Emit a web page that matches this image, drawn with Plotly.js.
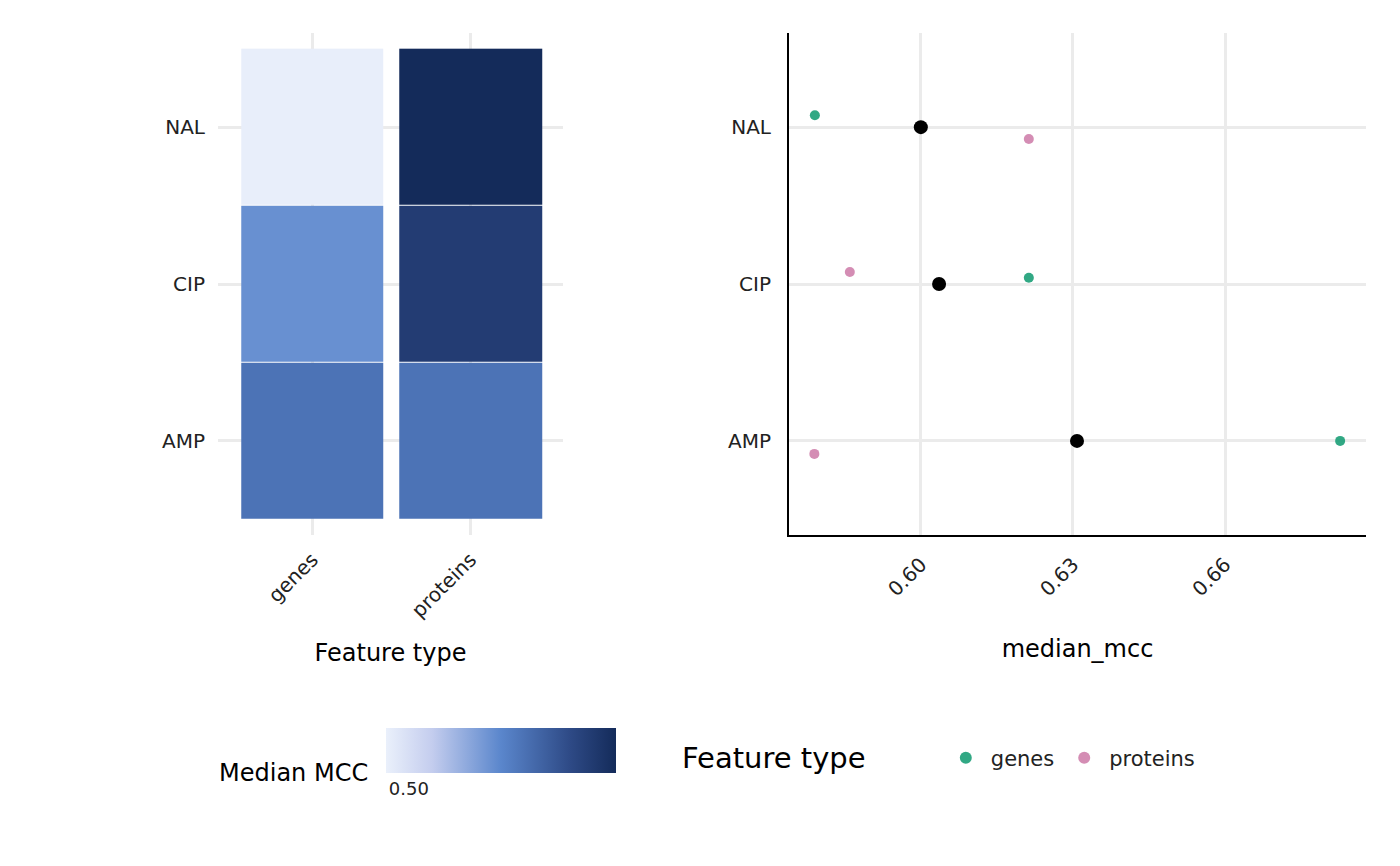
<!DOCTYPE html>
<html>
<head>
<script src="https://cdn.plot.ly/plotly-3.0.1.min.js"></script>
<style>body{margin:0}</style>
</head>
<body>
<div id="chart" style="width:1400px;height:866px"></div>
<script>
const drugs = ["AMP", "CIP", "NAL"];
const featureTypes = ["genes", "proteins"];
// heatmap median MCC, rows = drugs (AMP, CIP, NAL), cols = feature types
const heatZ = [
  [0.61, 0.61],
  [0.58, 0.675],
  [0.48, 0.70]
];

// dot plot: per drug position (0=AMP,1=CIP,2=NAL) with jitter
const genesX = [0.6827, 0.6213, 0.5791];
const genesY = [0.0, 1.04, 2.076];
const proteinsX = [0.579, 0.586, 0.6213];
const proteinsY = [-0.083, 1.076, 1.924];
const medianX = [0.6308, 0.6036, 0.600];
const medianY = [0, 1, 2];

const font = "DejaVu Sans, sans-serif";

const traces = [
  {
    type: "heatmap", x: featureTypes, y: drugs, z: heatZ,
    xaxis: "x", yaxis: "y", xgap: 16, ygap: 1,
    colorscale: [[0, "#eaf0fb"], [0.2, "#c4cdee"], [0.5, "#5a86cc"], [0.8, "#2e4a86"], [1, "#142b5a"]],
    zmin: 0.478, zmax: 0.70, showscale: true,
    colorbar: {
      orientation: "h", x: 501 / 1400, xanchor: "center", y: 0.072, yanchor: "bottom",
      lenmode: "pixels", len: 250, thickness: 45, outlinewidth: 0,
      tickvals: [0.5], ticktext: ["0.50"], ticks: "", ticklen: 0,
      tickfont: { family: font, size: 18, color: "#222" }
    }
  },
  {
    type: "scatter", mode: "markers", name: "genes", x: genesX, y: genesY,
    xaxis: "x2", yaxis: "y2",
    marker: { color: "#1b9e77", size: 10, opacity: 0.9 }
  },
  {
    type: "scatter", mode: "markers", name: "proteins", x: proteinsX, y: proteinsY,
    xaxis: "x2", yaxis: "y2",
    marker: { color: "#cc79a7", size: 10, opacity: 0.85 }
  },
  {
    type: "scatter", mode: "markers", name: "median", x: medianX, y: medianY,
    xaxis: "x2", yaxis: "y2", showlegend: false,
    marker: { color: "#000", size: 14 }
  }
];

const yCommon = {
  range: [-0.6, 2.6], tickvals: [0, 1, 2], ticktext: drugs,
  showgrid: true, gridcolor: "#ebebeb", gridwidth: 3, zeroline: false,
  tickfont: { family: font, size: 20, color: "#222" }, ticks: "", ticklabelstandoff: 12
};

const layout = {
  width: 1400, height: 866,
  margin: { l: 0, r: 0, t: 0, b: 0 },
  paper_bgcolor: "white", plot_bgcolor: "white",
  font: { family: font },
  showlegend: true,
  legend: {
    orientation: "h", x: 0.672, xanchor: "left", y: 1 - 758 / 866, yanchor: "middle",
    font: { family: font, size: 21, color: "#222" }, itemsizing: "constant", itemwidth: 40
  },
  xaxis: {
    domain: [218 / 1400, 563 / 1400], anchor: "y",
    type: "category", range: [-0.596, 1.584],
    tickangle: -45, showgrid: true, gridcolor: "#ebebeb", gridwidth: 3,
    tickfont: { family: font, size: 20, color: "#222" }, ticks: "", ticklabelstandoff: 8,
    title: { text: "Feature type", font: { family: font, size: 24, color: "#000" }, standoff: 22 }
  },
  yaxis: Object.assign({ domain: [1 - 535 / 866, 1 - 33 / 866], anchor: "x", type: "category" }, yCommon, { tickvals: undefined, ticktext: undefined }),
  xaxis2: {
    domain: [789 / 1400, 1366 / 1400], anchor: "y2",
    range: [0.574, 0.6878], tickvals: [0.6, 0.63, 0.66], ticktext: ["0.60", "0.63", "0.66"],
    tickangle: -45, showgrid: true, gridcolor: "#ebebeb", gridwidth: 3, zeroline: false,
    showline: true, linecolor: "#000", linewidth: 2,
    tickfont: { family: font, size: 20, color: "#222" }, ticks: "", ticklabelstandoff: 8,
    title: { text: "median_mcc", font: { family: font, size: 24, color: "#000" }, standoff: 40 }
  },
  yaxis2: Object.assign({ domain: [1 - 535 / 866, 1 - 33 / 866], anchor: "x2", showline: true, linecolor: "#000", linewidth: 2 }, yCommon),
  annotations: [
    { text: "Median MCC", xref: "paper", yref: "paper", x: 370 / 1400, y: 1 - 773 / 866,
      xanchor: "right", yanchor: "middle", showarrow: false, font: { family: font, size: 24, color: "#000" } },
    { text: "Feature type", xref: "paper", yref: "paper", x: 680 / 1400, y: 1 - 758 / 866,
      xanchor: "left", yanchor: "middle", showarrow: false, font: { family: font, size: 29, color: "#000" } }
  ]
};

Plotly.newPlot("chart", traces, layout, { displayModeBar: false });
</script>
</body>
</html>
